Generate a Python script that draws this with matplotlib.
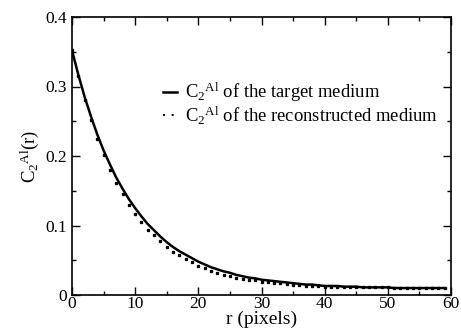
import matplotlib.pyplot as plt
from matplotlib.lines import Line2D
from matplotlib.ticker import MultipleLocator

plt.rcParams['font.family'] = 'Liberation Serif'
plt.rcParams['mathtext.fontset'] = 'custom'
plt.rcParams['mathtext.rm'] = 'Liberation Serif'
plt.rcParams['mathtext.it'] = 'Liberation Serif'

r = list(range(60))
target = [0.352, 0.317, 0.285, 0.257, 0.231, 0.208, 0.188, 0.169, 0.153, 0.138,
          0.125, 0.113, 0.102, 0.093, 0.084, 0.076, 0.069, 0.063, 0.058, 0.053,
          0.048, 0.044, 0.040, 0.037, 0.034, 0.032, 0.029, 0.027, 0.025, 0.024,
          0.022, 0.021, 0.020, 0.019, 0.018, 0.017, 0.016, 0.015, 0.015, 0.014,
          0.013, 0.013, 0.013, 0.012, 0.012, 0.012, 0.011, 0.011, 0.011, 0.011,
          0.011, 0.010, 0.010, 0.010, 0.010, 0.010, 0.010, 0.010, 0.010, 0.010]
recon = [0.352, 0.315, 0.281, 0.252, 0.225, 0.201, 0.180, 0.161, 0.145, 0.130,
         0.117, 0.105, 0.094, 0.086, 0.077, 0.069, 0.062, 0.057, 0.052, 0.047,
         0.042, 0.039, 0.035, 0.032, 0.029, 0.028, 0.025, 0.023, 0.021, 0.021,
         0.019, 0.018, 0.017, 0.017, 0.016, 0.015, 0.014, 0.013, 0.013, 0.013,
         0.012, 0.012, 0.012, 0.011, 0.011, 0.011, 0.011, 0.011, 0.011, 0.011,
         0.011, 0.010, 0.010, 0.010, 0.010, 0.010, 0.010, 0.010, 0.010, 0.010]

fig = plt.figure(figsize=(4.61, 3.33), dpi=100)
ax = fig.add_axes([72/461, 1-295/333, 379/461, 278/333])

lab = r'C$_2$$^{\rm Al}$'
h1, = ax.plot(r, target, color='black', lw=1.8)
ax.plot(r, recon, ls='none', marker='s', ms=1.4, color='black')
# legend sample for the dotted series: a couple of dots
h2 = Line2D([], [], color='black', lw=1.4, ls=(0, (1, 3.5)))

ax.set_xlim(0, 60)
ax.set_ylim(0, 0.4)
ax.xaxis.set_major_locator(MultipleLocator(10))
ax.xaxis.set_minor_locator(MultipleLocator(5))
ax.yaxis.set_minor_locator(MultipleLocator(0.05))
ax.set_yticks([0, 0.1, 0.2, 0.3, 0.4])
ax.set_yticklabels(['0', '0.1', '0.2', '0.3', '0.4'])
ax.tick_params(which='both', direction='in', top=True, right=True, labelsize=12.5, width=1)
ax.tick_params(which='major', length=6)
ax.tick_params(which='minor', length=3)
ax.tick_params(axis='x', pad=1)
for s in ax.spines.values():
    s.set_linewidth(1.2)

ax.set_xlabel('r (pixels)', fontsize=14, labelpad=-1)
ax.set_ylabel(r'C$_2$$^{\rm Al}$(r)', fontsize=13.5, labelpad=3)

ax.legend([h1, h2], [lab + ' of the target medium', lab + ' of the reconstructed medium'],
          loc='upper left', bbox_to_anchor=(0.195, 0.83), frameon=False,
          fontsize=13.4, handlelength=0.75, handletextpad=0.45, labelspacing=0.0)

fig.savefig('out.png', dpi=100)
